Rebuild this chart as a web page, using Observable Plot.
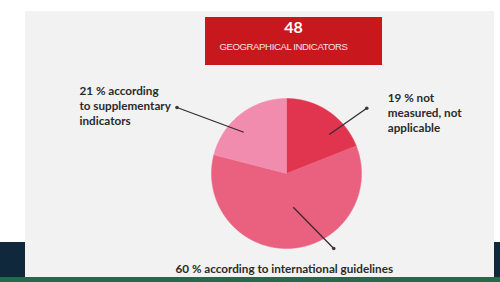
<!DOCTYPE html>
<html><head><meta charset="utf-8">
<script src="https://cdn.jsdelivr.net/npm/d3@7"></script>
<script src="https://cdn.jsdelivr.net/npm/@observablehq/plot@0.6"></script>
<style>
body{margin:0;background:#fff;}
#wrap{position:relative;width:500px;height:282px;overflow:hidden;font-family:Lato,"Open Sans",sans-serif;}
.panel{position:absolute;left:25px;top:11px;width:469px;height:266px;background:#f2f2f2;}
.navyL{position:absolute;left:0;top:242px;width:25px;height:35px;background:#10283b;}
.navyR{position:absolute;left:494px;top:242px;width:6px;height:35px;background:#10283b;}
.green{position:absolute;left:0;top:277px;width:500px;height:5px;background:#1f6b4b;}
.badge{position:absolute;left:205px;top:17px;width:177px;height:48px;background:#c9171e;color:#fff;text-align:center;}
.badge .num{font-family:Lato,sans-serif;font-weight:700;font-size:16px;line-height:16px;margin-top:2px;}
.badge .sub{font-family:"Liberation Sans",Arial,sans-serif;font-size:9.6px;letter-spacing:-0.4px;line-height:10px;margin-top:7px;margin-right:20px;color:#f4e4e4;}
#chart{position:absolute;left:0;top:0;}
</style>
</head><body>
<div id="wrap">
  <div class="panel"></div>
  <div class="navyL"></div>
  <div class="navyR"></div>
  <div class="green"></div>
  <div id="chart"></div>
  <div class="badge"><div class="num" id="total"></div><div class="sub" id="totalLabel"></div></div>
</div>
<script>
// ---- data ----
const total = 48;
const totalLabel = "GEOGRAPHICAL INDICATORS";
const categories = ["not measured, not applicable", "according to international guidelines", "according to supplementary indicators"];
const shares = [19, 60, 21];
const labels = ["19 % not\nmeasured, not\napplicable", "60 % according to international guidelines", "21 % according\nto supplementary\nindicators"];

document.getElementById("total").textContent = total;
document.getElementById("totalLabel").textContent = totalLabel;

// ---- layout ----
const W = 500, H = 282, cx = 286, cy = 173, R = 75;
const sliceColors = ["#e1344f", "#e9617f", "#f18cae"];
// callout geometry in pie-radius units (x right, y up)
const callouts = [
  {inner: [0.57, 0.52], outer: [1.07, 0.87], text: [1.35, 1.09], anchor: "start"},
  {inner: [0.09, -0.45], outer: [0.63, -1.0], text: [-0.03, -1.18], anchor: "middle"},
  {inner: [-0.57, 0.55], outer: [-1.46, 0.88], text: [-2.76, 1.19], anchor: "start"}
];

const arcs = d3.pie().sort(null).value(d => d)(shares);
const polys = [];
arcs.forEach((a, i) => {
  polys.push({x: 0, y: 0, k: categories[i]});
  const n = Math.max(2, Math.ceil((a.endAngle - a.startAngle) / 0.01));
  for (let j = 0; j <= n; j++) {
    const t = a.startAngle + (a.endAngle - a.startAngle) * j / n;
    polys.push({x: Math.sin(t), y: Math.cos(t), k: categories[i]});
  }
  polys.push({x: 0, y: 0, k: categories[i]});
});
const calls = categories.map((c, i) => ({
  k: c, label: labels[i],
  x1: callouts[i].inner[0], y1: callouts[i].inner[1],
  x2: callouts[i].outer[0], y2: callouts[i].outer[1],
  tx: callouts[i].text[0], ty: callouts[i].text[1], anchor: callouts[i].anchor
}));

const textStyle = {x: "tx", y: "ty", text: "label", lineAnchor: "top", lineHeight: 1.28, fontSize: 11.7, fontWeight: 700, fill: "#2a2a2a"};
const chart = Plot.plot({
  width: W, height: H,
  margin: 0,
  style: {background: "transparent", fontFamily: "Lato, 'Open Sans', sans-serif"},
  x: {domain: [-cx / R, (W - cx) / R], axis: null},
  y: {domain: [-(H - cy) / R, cy / R], axis: null},
  color: {domain: categories, range: sliceColors},
  marks: [
    Plot.line(polys, {x: "x", y: "y", z: "k", fill: "k", stroke: "k", strokeWidth: 0.5, curve: "linear"}),
    Plot.link(calls, {x1: "x1", y1: "y1", x2: "x2", y2: "y2", stroke: "#3a2a30", strokeWidth: 1.3}),
    Plot.dot(calls, {x: "x2", y: "y2", r: 1.8, fill: "#3a3a3a"}),
    Plot.text(calls.filter(d => d.anchor === "start"), {...textStyle, textAnchor: "start"}),
    Plot.text(calls.filter(d => d.anchor === "middle"), {...textStyle, textAnchor: "middle"})
  ]
});
document.getElementById("chart").appendChild(chart);
</script>
</body></html>
